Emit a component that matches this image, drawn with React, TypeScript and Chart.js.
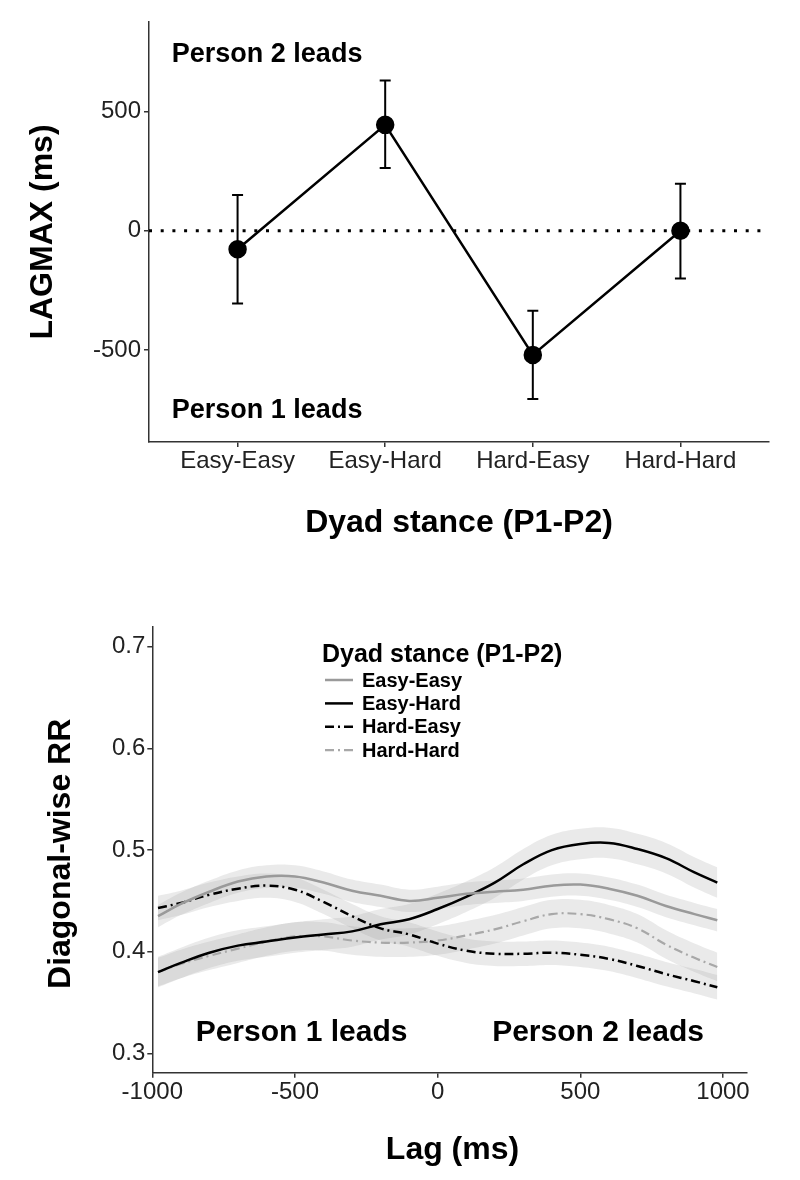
import React, { useEffect, useRef } from "react";
import { Chart, registerables } from "chart.js";

Chart.register(...registerables);

const FONT = "'Liberation Sans', Arial, Helvetica, sans-serif";

// ---------- Top chart data ----------
const stanceCategories = ["Easy-Easy", "Easy-Hard", "Hard-Easy", "Hard-Hard"];
const lagmaxMean = [-77, 444, -520, 0];
const lagmaxUpper = [150, 630, -335, 197];
const lagmaxLower = [-305, 263, -705, -200];
const lagmaxTicks = [-500, 0, 500];

// ---------- Bottom chart data ----------
const lagValues = [-980, -900, -800, -700, -600, -500, -400, -300, -200, -100, 0, 100, 200, 300, 400, 500, 600, 700, 800, 900, 980];
const rrEasyEasy = [0.435, 0.447, 0.459, 0.469, 0.474, 0.474, 0.468, 0.460, 0.455, 0.450, 0.453, 0.457, 0.459, 0.461, 0.465, 0.466, 0.462, 0.455, 0.445, 0.437, 0.431];
const rrEasyHard = [0.380, 0.389, 0.399, 0.406, 0.410, 0.414, 0.417, 0.420, 0.427, 0.432, 0.442, 0.454, 0.468, 0.486, 0.500, 0.506, 0.507, 0.501, 0.492, 0.478, 0.468];
const rrHardEasy = [0.443, 0.448, 0.456, 0.462, 0.465, 0.461, 0.449, 0.435, 0.423, 0.417, 0.408, 0.401, 0.398, 0.398, 0.399, 0.397, 0.393, 0.386, 0.378, 0.371, 0.365];
const rrHardHard = [0.380, 0.388, 0.396, 0.403, 0.410, 0.415, 0.415, 0.411, 0.409, 0.409, 0.411, 0.416, 0.422, 0.430, 0.437, 0.437, 0.432, 0.423, 0.407, 0.394, 0.385];
const rrRibbonHalfWidth = [0.011, 0.015, 0.012, 0.014];
const lagTicks = [-1000, -500, 0, 500, 1000];
const rrTicks = [0.3, 0.4, 0.5, 0.6, 0.7];

const rrSeriesNames = ["Easy-Easy", "Easy-Hard", "Hard-Easy", "Hard-Hard"];
const rrSeries = [rrEasyEasy, rrEasyHard, rrHardEasy, rrHardHard];
const rrColors = ["#9a9a9a", "#000000", "#000000", "#a8a8a8"];
const rrDashes: number[][] = [[], [], [9, 4, 2, 4], [9, 4, 2, 4]];
const rrWidths = [2.5, 2.5, 2.5, 2.2];

const AXIS_COLOR = "#333333";
const TICK_COLOR = "#222222";

function axisStyle() {
  return {
    border: { display: true, color: AXIS_COLOR, width: 1.5 },
    grid: { drawOnChartArea: false, drawTicks: true, tickLength: 5, color: AXIS_COLOR, lineWidth: 1.5 },
  };
}

const topDecor = {
  id: "topDecor",
  afterDatasetsDraw(chart: any) {
    const { ctx, chartArea } = chart;
    const x = chart.scales.x;
    const y = chart.scales.y;
    ctx.save();
    ctx.strokeStyle = "#000";
    ctx.lineWidth = 2;
    stanceCategories.forEach((_, i) => {
      const px = x.getPixelForValue(i + 1);
      const pu = y.getPixelForValue(lagmaxUpper[i]);
      const pl = y.getPixelForValue(lagmaxLower[i]);
      ctx.beginPath();
      ctx.moveTo(px, pu);
      ctx.lineTo(px, pl);
      ctx.moveTo(px - 5.5, pu);
      ctx.lineTo(px + 5.5, pu);
      ctx.moveTo(px - 5.5, pl);
      ctx.lineTo(px + 5.5, pl);
      ctx.stroke();
    });
    ctx.fillStyle = "#000";
    ctx.textAlign = "center";
    ctx.textBaseline = "middle";
    ctx.font = `bold 27px ${FONT}`;
    ctx.fillText("Person 2 leads", x.getPixelForValue(1.2), y.getPixelForValue(740));
    ctx.fillText("Person 1 leads", x.getPixelForValue(1.2), y.getPixelForValue(-755));
    ctx.font = `bold 32px ${FONT}`;
    ctx.fillText("Dyad stance (P1-P2)", (chartArea.left + chartArea.right) / 2, 523);
    ctx.save();
    ctx.translate(43, (chartArea.top + chartArea.bottom) / 2);
    ctx.rotate(-Math.PI / 2);
    ctx.fillText("LAGMAX (ms)", 0, 0);
    ctx.restore();
    ctx.restore();
  },
};

const bottomDecor = {
  id: "bottomDecor",
  afterDatasetsDraw(chart: any) {
    const { ctx, chartArea } = chart;
    const x = chart.scales.x;
    const y = chart.scales.y;
    ctx.save();
    ctx.fillStyle = "#000";
    ctx.textBaseline = "middle";
    // legend
    ctx.textAlign = "left";
    ctx.font = `bold 25px ${FONT}`;
    ctx.fillText("Dyad stance (P1-P2)", 322, chartArea.top + 28);
    ctx.font = `bold 20px ${FONT}`;
    rrSeriesNames.forEach((name, i) => {
      const cy = chartArea.top + 53 + i * 23.4;
      ctx.save();
      ctx.strokeStyle = rrColors[i];
      ctx.lineWidth = rrWidths[i];
      ctx.setLineDash(rrDashes[i]);
      ctx.beginPath();
      ctx.moveTo(325, cy);
      ctx.lineTo(353, cy);
      ctx.stroke();
      ctx.restore();
      ctx.fillText(name, 362, cy + 1);
    });
    // annotations
    ctx.textAlign = "center";
    ctx.font = `bold 30px ${FONT}`;
    ctx.fillText("Person 1 leads", x.getPixelForValue(-477), y.getPixelForValue(0.32));
    ctx.fillText("Person 2 leads", x.getPixelForValue(562), y.getPixelForValue(0.32));
    // axis titles
    ctx.font = `bold 32px ${FONT}`;
    ctx.fillText("Lag (ms)", (chartArea.left + chartArea.right) / 2 + 3, 570);
    ctx.save();
    ctx.translate(61, (chartArea.top + chartArea.bottom) / 2 + 4);
    ctx.rotate(-Math.PI / 2);
    ctx.fillText("Diagonal-wise RR", 0, 0);
    ctx.restore();
    ctx.restore();
  },
};

function TopChart() {
  const ref = useRef<HTMLCanvasElement>(null);
  useEffect(() => {
    const chart = new Chart(ref.current!, {
      type: "line",
      data: {
        datasets: [
          {
            data: lagmaxMean.map((v, i) => ({ x: i + 1, y: v })),
            borderColor: "#000",
            backgroundColor: "#000",
            borderWidth: 2.5,
            pointRadius: 8,
            pointHoverRadius: 8,
            tension: 0,
          },
          {
            data: [
              { x: 0.4, y: 0 },
              { x: 4.6, y: 0 },
            ],
            borderColor: "#000",
            borderWidth: 3,
            borderDash: [3, 8.7],
            pointRadius: 0,
          },
        ],
      },
      options: {
        animation: false,
        responsive: false,
        devicePixelRatio: 1,
        layout: { padding: { left: 0, top: 22, right: 31, bottom: 0 } },
        plugins: { legend: { display: false }, tooltip: { enabled: false } },
        scales: {
          x: {
            type: "linear",
            min: 0.4,
            max: 4.6,
            ...axisStyle(),
            afterBuildTicks: (s: any) => {
              s.ticks = stanceCategories.map((_, i) => ({ value: i + 1 }));
            },
            afterFit: (s: any) => {
              s.height = 138;
            },
            ticks: {
              autoSkip: false,
              maxRotation: 0,
              padding: 0,
              color: TICK_COLOR,
              font: { family: FONT, size: 24 },
              callback: (v: any) => stanceCategories[Math.round(v) - 1] ?? "",
            },
          },
          y: {
            type: "linear",
            min: -885,
            max: 875,
            ...axisStyle(),
            afterBuildTicks: (s: any) => {
              s.ticks = lagmaxTicks.map((v) => ({ value: v }));
            },
            afterFit: (s: any) => {
              s.width = 149;
            },
            ticks: {
              padding: 3,
              color: TICK_COLOR,
              font: { family: FONT, size: 24 },
              callback: (v: any) => String(v),
            },
          },
        },
      },
      plugins: [topDecor],
    });
    return () => chart.destroy();
  }, []);
  return <canvas ref={ref} width={800} height={580} style={{ position: "absolute", left: 0, top: 0, width: 800, height: 580 }} />;
}

function BottomChart() {
  const ref = useRef<HTMLCanvasElement>(null);
  useEffect(() => {
    const lineSets = rrSeries.map((vals, i) => ({
      data: vals.map((v, j) => ({ x: lagValues[j], y: v })),
      borderColor: rrColors[i],
      borderWidth: rrWidths[i],
      borderDash: rrDashes[i],
      pointRadius: 0,
      tension: 0.4,
      fill: false,
    }));
    const ribbonSets: any[] = [];
    rrSeries.forEach((vals, i) => {
      ribbonSets.push({
        data: vals.map((v, j) => ({ x: lagValues[j], y: v + rrRibbonHalfWidth[i] })),
        borderWidth: 0,
        borderColor: "rgba(0,0,0,0)",
        backgroundColor: "rgba(150,150,150,0.2)",
        pointRadius: 0,
        tension: 0.4,
        fill: "+1",
      });
      ribbonSets.push({
        data: vals.map((v, j) => ({ x: lagValues[j], y: v - rrRibbonHalfWidth[i] })),
        borderWidth: 0,
        borderColor: "rgba(0,0,0,0)",
        pointRadius: 0,
        tension: 0.4,
        fill: false,
      });
    });
    const chart = new Chart(ref.current!, {
      type: "line",
      data: { datasets: [...lineSets, ...ribbonSets] as any },
      options: {
        animation: false,
        responsive: false,
        devicePixelRatio: 1,
        layout: { padding: { left: 0, top: 47, right: 53.3, bottom: 0 } },
        plugins: { legend: { display: false }, tooltip: { enabled: false } },
        scales: {
          x: {
            type: "linear",
            min: -1000,
            max: 1083,
            ...axisStyle(),
            afterBuildTicks: (s: any) => {
              s.ticks = lagTicks.map((v) => ({ value: v }));
            },
            afterFit: (s: any) => {
              s.height = 107.3;
            },
            ticks: {
              autoSkip: false,
              maxRotation: 0,
              padding: 0,
              color: TICK_COLOR,
              font: { family: FONT, size: 24 },
              callback: (v: any) => String(v),
            },
          },
          y: {
            type: "linear",
            min: 0.281,
            max: 0.7194,
            ...axisStyle(),
            afterBuildTicks: (s: any) => {
              s.ticks = rrTicks.map((v) => ({ value: v }));
            },
            afterFit: (s: any) => {
              s.width = 152.3;
            },
            ticks: {
              padding: 2,
              color: TICK_COLOR,
              font: { family: FONT, size: 24 },
              callback: (v: any) => Number(v).toFixed(1),
            },
          },
        },
      },
      plugins: [bottomDecor],
    });
    return () => chart.destroy();
  }, []);
  return <canvas ref={ref} width={800} height={600} style={{ position: "absolute", left: 0, top: 580, width: 800, height: 600 }} />;
}

export default function App() {
  return (
    <div style={{ position: "absolute", left: 0, top: 0, width: 800, height: 1180, background: "#fff" }}>
      <TopChart />
      <BottomChart />
    </div>
  );
}
